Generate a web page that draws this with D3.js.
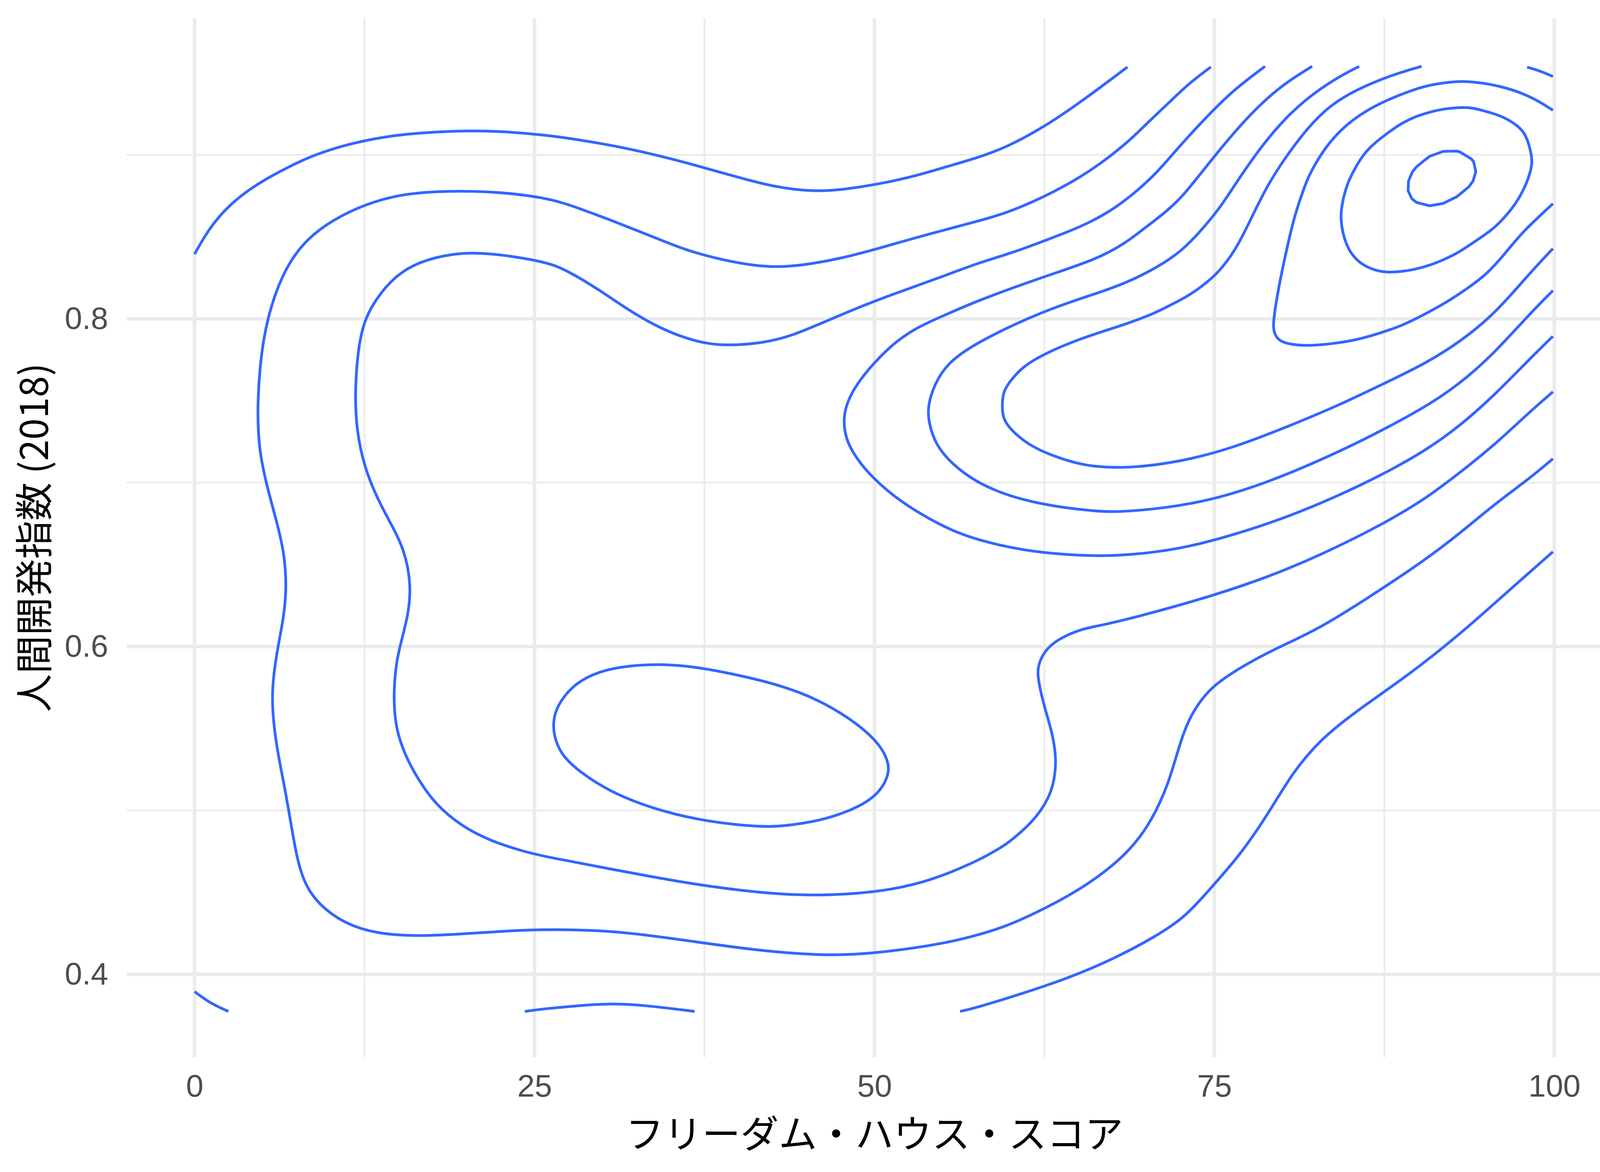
<!DOCTYPE html>
<html>
<head>
<meta charset="utf-8">
<script src="https://cdn.jsdelivr.net/npm/d3@7"></script>
<style>
  html, body { margin: 0; padding: 0; background: #fff; }
  svg { display: block; }
</style>
</head>
<body>
<svg id="chart" width="4200" height="3000"></svg>
<script>
// axis ticks
var xMajor = [0, 25, 50, 75, 100];
var xMinor = [12.5, 37.5, 62.5, 87.5];
var yMajor = [0.4, 0.6, 0.8];
var yMinor = [0.5, 0.7, 0.9];
var xTitle = "フリーダム・ハウス・スコア";
var yTitle = "人間開発指数 (2018)";

// contour lines, [freedom house score, HDI]
var level1TopLeft = [[0.0,0.8394],[1.08,0.8554],[2.62,0.8702],[4.67,0.8828],[6.98,0.893],[8.77,0.8999],[11.34,0.9067],[13.90,0.911],[16.47,0.9135],[20.31,0.9149],[22.88,0.9142],[25.91,0.912],[28.47,0.909],[32.32,0.9033],[36.16,0.8953],[40.01,0.8862],[42.58,0.8805],[45.40,0.8775],[47.71,0.8787],[50.27,0.8821],[52.84,0.8866],[55.40,0.893],[57.51,0.898],[59.70,0.9045],[62.45,0.9168],[65.20,0.9323],[68.61,0.9536]];
var level1BottomLeft = [[0.0,0.3895],[1.08,0.3827],[2.49,0.3774]];
var level1BottomMid = [[24.29,0.3774],[25.91,0.3792],[28.47,0.381],[30.27,0.3822],[32.83,0.3815],[36.78,0.3774]];
var level1Right = [[56.30,0.3774],[57.51,0.3797],[60.80,0.3881],[64.10,0.3972],[67.40,0.4086],[70.70,0.4231],[72.90,0.4352],[74.74,0.4527],[76.90,0.4728],[78.95,0.4978],[80.74,0.523],[82.80,0.5435],[85.62,0.5617],[89.21,0.5822],[93.05,0.6073],[96.90,0.636],[99.90,0.6578]];

var level2 = [[74.74,0.9536],[73.12,0.9435],[71.80,0.9329],[69.99,0.9188],[69.05,0.9109],[67.40,0.8993],[65.20,0.8864],[62.45,0.8741],[59.70,0.8644],[57.51,0.8593],[54.12,0.852],[50.27,0.8428],[47.71,0.8371],[45.40,0.8335],[43.35,0.8315],[41.29,0.8321],[38.73,0.836],[36.16,0.8417],[33.60,0.8504],[31.04,0.8588],[28.47,0.8668],[25.91,0.8743],[21.08,0.8782],[17.75,0.8777],[15.18,0.8759],[12.62,0.8702],[10.06,0.8599],[8.26,0.8485],[6.98,0.8349],[5.95,0.8166],[5.18,0.7938],[4.80,0.771],[4.62,0.7459],[4.72,0.7208],[5.31,0.698],[6.08,0.6752],[6.60,0.657],[6.77,0.637],[6.59,0.6187],[6.08,0.5982],[5.69,0.5754],[5.75,0.5571],[6.08,0.5366],[6.59,0.516],[7.11,0.491],[7.49,0.4727],[8.00,0.4568],[9.03,0.4431],[11.08,0.4306],[13.39,0.4249],[16.08,0.4233],[19.03,0.4242],[22.88,0.4265],[25.91,0.4276],[31.04,0.4267],[36.16,0.4207],[41.29,0.4146],[46.42,0.4112],[50.27,0.4128],[55.40,0.4192],[57.51,0.4238],[59.70,0.4292],[62.45,0.4398],[65.20,0.452],[67.95,0.4687],[69.60,0.4839],[70.70,0.4991],[71.58,0.5158],[72.13,0.531],[72.68,0.5462],[73.23,0.5569],[73.78,0.5645],[74.74,0.5751],[76.90,0.5873],[79.46,0.5987],[82.80,0.611],[87.41,0.6357],[90.49,0.6528],[93.05,0.669],[95.62,0.687],[98.18,0.7025],[99.90,0.7146]];

var level3 = [[78.73,0.954],[76.75,0.9417],[75.27,0.9303],[73.95,0.9189],[72.30,0.904],[70.70,0.8883],[69.05,0.8761],[67.40,0.8657],[65.20,0.856],[62.45,0.8474],[60.25,0.8405],[57.51,0.8337],[55.40,0.8269],[51.55,0.8155],[48.99,0.8075],[46.42,0.7984],[43.86,0.7893],[41.81,0.7852],[39.37,0.7836],[37.45,0.7847],[34.88,0.7915],[32.32,0.8029],[29.75,0.8178],[27.44,0.8292],[25.91,0.8349],[21.34,0.8406],[19.03,0.8399],[16.47,0.8349],[14.67,0.8257],[13.13,0.8098],[12.36,0.7961],[11.98,0.7779],[11.80,0.755],[11.90,0.7323],[12.49,0.7094],[13.39,0.6912],[14.42,0.6752],[15.44,0.6593],[15.95,0.637],[15.70,0.6187],[15.18,0.6027],[14.80,0.5891],[14.62,0.5685],[14.80,0.5503],[15.44,0.5343],[16.47,0.5184],[17.75,0.5035],[19.54,0.491],[21.60,0.4819],[24.16,0.475],[25.91,0.4716],[31.04,0.4636],[36.16,0.4556],[41.29,0.4499],[45.40,0.4477],[50.27,0.4499],[54.12,0.4568],[57.51,0.469],[58.60,0.474],[59.70,0.4793],[60.80,0.4869],[61.57,0.493],[62.23,0.4998],[62.73,0.5067],[63.11,0.5143],[63.33,0.5249],[63.33,0.5341],[63.11,0.5462],[62.67,0.5584],[62.23,0.5721],[62.03,0.5812],[62.01,0.5865],[62.23,0.5926],[62.67,0.5987],[63.55,0.6047],[65.20,0.6108],[66.85,0.6131],[69.97,0.6195],[74.85,0.6309],[78.95,0.6424],[82.80,0.6557],[87.41,0.6747],[90.49,0.6899],[93.05,0.706],[95.62,0.7231],[98.18,0.7431],[99.90,0.7554]];

var ellipseLow = [[34.11,0.5895],[36.68,0.5879],[40.01,0.5827],[43.35,0.5758],[45.91,0.5674],[48.22,0.556],[49.76,0.5457],[50.66,0.5366],[51.04,0.5286],[51.04,0.5229],[50.79,0.5172],[50.27,0.5104],[48.99,0.5024],[46.42,0.4944],[43.86,0.491],[42.32,0.4899],[40.01,0.491],[36.94,0.4944],[33.60,0.5013],[30.52,0.5115],[28.21,0.5241],[26.93,0.5344],[26.42,0.5457],[26.37,0.5549],[26.68,0.564],[27.70,0.5754],[29.24,0.5834],[31.29,0.5879]];

var level4 = [[82.19,0.954],[80.54,0.9456],[78.89,0.9348],[77.24,0.9211],[75.60,0.9052],[73.95,0.8881],[72.63,0.8744],[71.47,0.8653],[69.82,0.855],[68.50,0.8463],[66.30,0.836],[62.45,0.8257],[57.51,0.8108],[55.40,0.803],[52.84,0.7938],[51.04,0.7824],[49.50,0.7687],[48.48,0.7573],[47.91,0.747],[47.71,0.7379],[47.91,0.7265],[48.48,0.7174],[49.50,0.706],[51.30,0.6923],[53.35,0.6809],[56.17,0.6684],[59.25,0.6615],[62.33,0.657],[66.13,0.6551],[68.69,0.6557],[72.54,0.6595],[76.38,0.668],[80.23,0.6785],[84.08,0.6918],[87.41,0.7051],[90.49,0.7193],[93.05,0.7345],[95.62,0.7535],[98.18,0.7754],[99.90,0.7893]];

var level5 = [[85.65,0.954],[83.84,0.9462],[81.86,0.9348],[80.21,0.9223],[78.56,0.9063],[76.91,0.8869],[75.60,0.8698],[74.28,0.8561],[72.63,0.8413],[70.70,0.8308],[68.50,0.8218],[66.30,0.8153],[62.45,0.805],[57.51,0.7856],[55.40,0.7733],[54.37,0.7596],[53.91,0.7459],[53.99,0.7368],[54.50,0.7231],[55.66,0.7117],[57.45,0.7003],[60.02,0.6912],[63.10,0.6855],[66.13,0.6827],[67.66,0.6819],[71.25,0.6842],[75.10,0.6899],[78.95,0.7003],[82.80,0.7136],[86.64,0.7288],[90.49,0.7459],[93.05,0.7602],[95.62,0.7792],[98.18,0.8029],[99.90,0.8172]];

var level6 = [[90.24,0.954],[87.96,0.9485],[85.49,0.94],[83.51,0.9303],[81.86,0.9166],[80.21,0.8983],[78.89,0.8812],[77.74,0.8618],[76.75,0.8447],[75.60,0.831],[74.61,0.823],[73.12,0.8139],[71.47,0.8071],[70.70,0.8037],[68.50,0.7966],[65.20,0.7882],[62.45,0.7785],[60.80,0.7701],[60.03,0.7623],[59.48,0.7561],[59.38,0.7471],[59.45,0.7391],[60.02,0.7323],[61.30,0.7231],[63.10,0.7163],[64.89,0.7117],[66.13,0.7098],[68.69,0.7087],[72.54,0.7127],[76.38,0.7212],[80.23,0.7336],[84.08,0.7469],[87.41,0.7602],[90.49,0.7725],[93.05,0.7858],[95.62,0.8029],[98.18,0.8277],[99.90,0.8428]];
var level6Corner = [[98.0,0.9535],[98.95,0.9512],[99.90,0.9478]];

var level7 = [[99.90,0.9272],[98.18,0.9363],[95.88,0.9425],[93.82,0.9448],[92.91,0.9448],[91.75,0.9439],[90.43,0.9419],[88.79,0.9371],[87.14,0.9314],[85.49,0.9234],[84.33,0.9154],[83.34,0.9063],[82.52,0.896],[81.86,0.8858],[81.37,0.8744],[80.87,0.8618],[80.38,0.8447],[79.88,0.8254],[79.55,0.8105],[79.31,0.7968],[79.39,0.7911],[79.72,0.7871],[80.21,0.7849],[81.78,0.7832],[83.84,0.7849],[85.49,0.7871],[87.14,0.7911],[88.79,0.7957],[90.43,0.8025],[92.08,0.81],[93.73,0.8191],[95.11,0.8277],[96.40,0.840],[97.67,0.8531],[99.90,0.8702]];

var level8 = [[93.90,0.9289],[92.91,0.9289],[91.84,0.928],[90.93,0.9263],[89.78,0.9234],[88.79,0.9194],[87.80,0.9137],[86.81,0.9074],[85.98,0.9006],[85.32,0.8915],[84.83,0.8835],[84.50,0.8744],[84.33,0.8664],[84.30,0.8607],[84.42,0.8527],[84.83,0.8425],[85.32,0.8373],[85.82,0.8333],[86.81,0.8293],[87.80,0.8282],[88.79,0.8288],[89.78,0.8301],[90.93,0.8328],[91.92,0.8362],[92.91,0.8402],[93.73,0.8447],[94.85,0.851],[95.62,0.8554],[96.90,0.8668],[97.67,0.8771],[98.18,0.8873],[98.39,0.8953],[98.31,0.901],[97.93,0.9124],[97.29,0.9181],[96.13,0.9238],[94.85,0.9268]];

var level9 = [[91.84,0.9021],[92.82,0.9023],[93.07,0.9017],[93.90,0.8975],[94.06,0.896],[94.23,0.8898],[94.03,0.8841],[93.73,0.8806],[93.24,0.8772],[92.82,0.8744],[91.84,0.8704],[90.85,0.8689],[89.86,0.871],[89.53,0.8732],[89.25,0.8781],[89.28,0.8841],[89.58,0.8898],[89.86,0.8926],[90.35,0.896],[90.85,0.8992]];

var openLines = [level1TopLeft, level1BottomLeft, level1BottomMid, level1Right, level2, level3, level4, level5, level6, level6Corner, level7];
var closedLines = [ellipseLow, level8];
var polyLines = [level9];

var svg = d3.select("#chart"),
    width = +svg.attr("width"),
    height = +svg.attr("height"),
    margin = { top: 46, right: 47, bottom: 294, left: 324 };

svg.append("rect").attr("width", width).attr("height", height).attr("fill", "#fff");

var x = d3.scaleLinear().domain([-5, 105]).range([margin.left, width - margin.right]);
var y = d3.scaleLinear().domain([0.3495, 0.9835]).range([height - margin.bottom, margin.top]);

var grid = svg.append("g");
var x0 = x.range()[0], x1 = x.range()[1], y0 = y.range()[0], y1 = y.range()[1];

// minor grid first, major on top
grid.selectAll(".vminor").data(xMinor).enter().append("line")
    .attr("x1", function(d) { return x(d); }).attr("x2", function(d) { return x(d); })
    .attr("y1", y0).attr("y2", y1)
    .attr("stroke", "#ebebeb").attr("stroke-width", 4.5);
grid.selectAll(".hminor").data(yMinor).enter().append("line")
    .attr("y1", function(d) { return y(d); }).attr("y2", function(d) { return y(d); })
    .attr("x1", x0).attr("x2", x1)
    .attr("stroke", "#ebebeb").attr("stroke-width", 4.5);
grid.selectAll(".vmajor").data(xMajor).enter().append("line")
    .attr("x1", function(d) { return x(d); }).attr("x2", function(d) { return x(d); })
    .attr("y1", y0).attr("y2", y1)
    .attr("stroke", "#ebebeb").attr("stroke-width", 9);
grid.selectAll(".hmajor").data(yMajor).enter().append("line")
    .attr("y1", function(d) { return y(d); }).attr("y2", function(d) { return y(d); })
    .attr("x1", x0).attr("x2", x1)
    .attr("stroke", "#ebebeb").attr("stroke-width", 9);

// contours: b-spline through the read points smooths reading noise
var line = d3.line()
    .x(function(d) { return x(d[0]); })
    .y(function(d) { return y(d[1]); })
    .curve(d3.curveBasis);
var loop = d3.line()
    .x(function(d) { return x(d[0]); })
    .y(function(d) { return y(d[1]); })
    .curve(d3.curveBasisClosed);
var poly = d3.line()
    .x(function(d) { return x(d[0]); })
    .y(function(d) { return y(d[1]); })
    .curve(d3.curveLinearClosed);

var g = svg.append("g")
    .attr("fill", "none")
    .attr("stroke", "#3366ff")
    .attr("stroke-width", 7)
    .attr("stroke-linejoin", "round");

g.selectAll(".open").data(openLines).enter().append("path").attr("d", line);
g.selectAll(".closed").data(closedLines).enter().append("path").attr("d", loop);
g.selectAll(".poly").data(polyLines).enter().append("path").attr("d", poly);

// axes (labels only, like theme_minimal)
var xAxis = svg.append("g")
    .attr("transform", "translate(0," + y0 + ")")
    .call(d3.axisBottom(x).tickValues(xMajor).tickSize(0).tickPadding(44).tickFormat(d3.format("d")));
var yAxis = svg.append("g")
    .attr("transform", "translate(" + x0 + ",0)")
    .call(d3.axisLeft(y).tickValues(yMajor).tickSize(0).tickPadding(47).tickFormat(d3.format(".1f")));

[xAxis, yAxis].forEach(function(a) {
    a.select(".domain").remove();
    a.selectAll("text")
        .attr("fill", "#4d4d4d")
        .style("font-family", "'Liberation Sans', Arial, sans-serif")
        .style("font-size", "80px");
});

svg.append("text")
    .attr("x", (x0 + x1) / 2)
    .attr("y", 2938)
    .attr("text-anchor", "middle")
    .style("font-family", "'Noto Sans CJK JP', sans-serif")
    .style("font-size", "98px")
    .attr("fill", "#000")
    .text(xTitle);

svg.append("text")
    .attr("transform", "translate(123," + ((y0 + y1) / 2) + ") rotate(-90)")
    .attr("text-anchor", "middle")
    .style("font-family", "'Noto Sans CJK JP', sans-serif")
    .style("font-size", "98px")
    .attr("fill", "#000")
    .text(yTitle);
</script>
</body>
</html>
